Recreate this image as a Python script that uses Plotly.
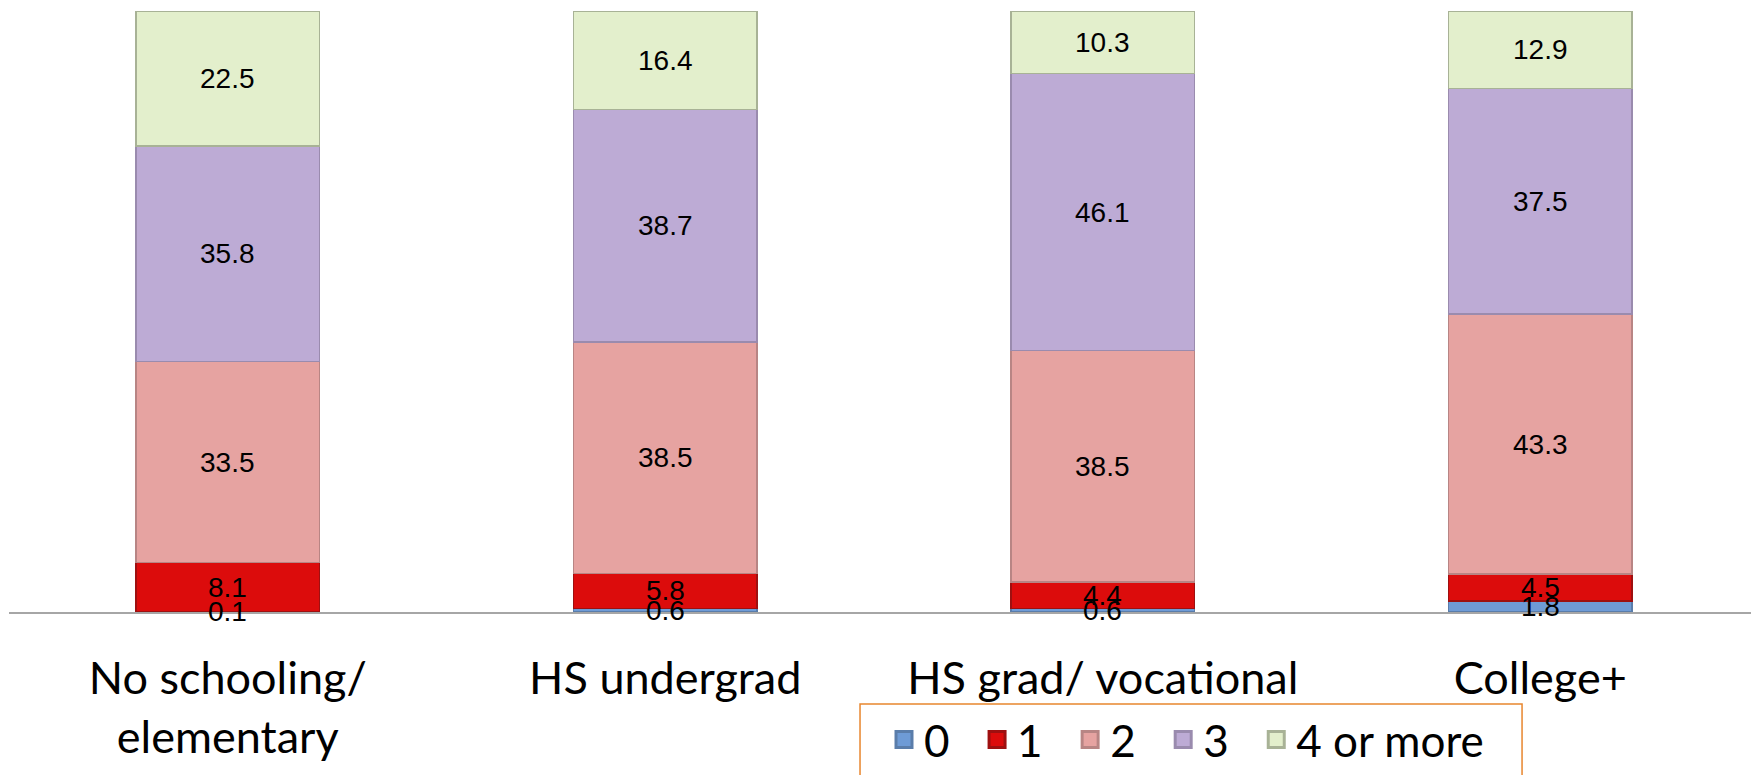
import plotly.graph_objects as go

# education groups and share of respondents by number of items (%)
categories = ["No schooling/<br>elementary", "HS undergrad", "HS grad/ vocational", "College+"]
series_names = ["0", "1", "2", "3", "4 or more"]
v0 = [0.1, 0.6, 0.6, 1.8]
v1 = [8.1, 5.8, 4.4, 4.5]
v2 = [33.5, 38.5, 38.5, 43.3]
v3 = [35.8, 38.7, 46.1, 37.5]
v4 = [22.5, 16.4, 10.3, 12.9]

colors = ["#6E9BD6", "#DC0C0C", "#E6A3A1", "#BDABD5", "#E3EFCC"]
edges = ["#5A7DAA", "#9E1010", "#B88584", "#9A8BAE", "#A8B296"]

fig = go.Figure()
base = [0.0] * len(categories)
labels = []
for name, vals, col, edge in zip(series_names, [v0, v1, v2, v3, v4], colors, edges):
    fig.add_trace(go.Bar(
        x=categories, y=vals, name=name,
        marker=dict(color=col, line=dict(color=edge, width=1.5)),
        showlegend=False, hoverinfo="y",
    ))
    # legend entry with a bigger swatch; nbsp padding keeps the entries evenly spaced
    fig.add_trace(go.Scatter(
        x=[None], y=[None], mode="markers", name=name + "\u00a0" * 2,
        marker=dict(symbol="square", size=16, color=col, line=dict(color=edge, width=3)),
    ))
    # value labels drawn on top of every bar, centred in each segment
    for i, v in enumerate(vals):
        labels.append(dict(x=categories[i], y=base[i] + v / 2, text=f"{v:.1f}",
                           showarrow=False, xref="x", yref="y",
                           font=dict(family="Liberation Sans, Arial", size=28, color="black")))
        base[i] += v

fig.update_layout(
    barmode="stack",
    bargap=0.58,
    width=1759, height=775,
    margin=dict(l=1, r=8, t=3, b=171),
    plot_bgcolor="white", paper_bgcolor="white",
    font=dict(family="Lato, Noto Sans", size=45, color="black"),
    annotations=labels,
    legend=dict(
        orientation="h", traceorder="normal",
        x=0.5, xanchor="left", y=-0.213, yanchor="middle",
        font=dict(size=44), bgcolor="rgba(0,0,0,0)",
    ),
    shapes=[dict(type="rect", xref="paper", yref="paper",
                 x0=0.4863, x1=0.8646, y0=-0.30, y1=-0.153,
                 line=dict(color="#E8862E", width=1.5))],
)
fig.update_xaxes(range=[-0.5, 3.5], showline=True, linecolor="#A6A6A6", linewidth=2,
                 ticks="", ticklabelstandoff=26, tickfont=dict(size=45))
fig.update_yaxes(range=[0, 100], visible=False)

fig.write_html("out.html")
